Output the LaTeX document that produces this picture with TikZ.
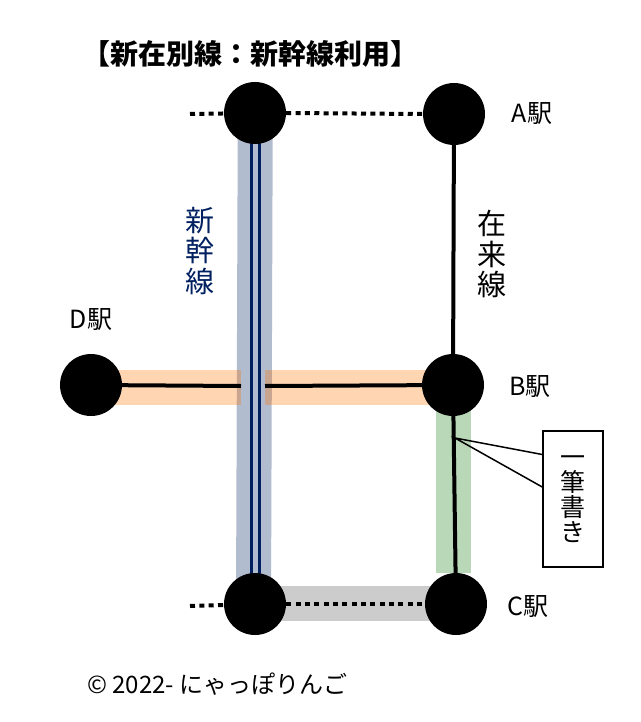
\documentclass[tikz,border=0pt]{standalone}
\usepackage{fontspec}
\setmainfont{Noto Sans CJK JP}
\usetikzlibrary{backgrounds,positioning}
\definecolor{shinblue}{HTML}{002060}
\tikzset{
  station/.style={circle,fill=black,inner sep=0pt,minimum size=62pt},
  label/.style={inner sep=0pt,font=\fontsize{25}{25}\selectfont},
  stack/.style={inner sep=0pt,align=center,font=\fontsize{29}{30.5}\selectfont},
  band/.style={line width=35pt,opacity=0.3},
  dots/.style={line width=4pt,dash pattern=on 5pt off 4.35pt},
  rail/.style={line width=4pt}
}

\begin{document}
\begin{tikzpicture}[x=1pt,y=-1pt]
  \useasboundingbox (0,0) rectangle (640,722);
  \node[station] (n_top) at (255,113) {};
  \node[station] (n_bot) at (255,604) {};
  \node[station] (n_a)   at (454,114) {};
  \node[station] (n_b)   at (453,385) {};
  \node[station] (n_c)   at (456,604) {};
  \node[station] (n_d)   at (91,385)  {};
  \coordinate (w_top) at (190,114);
  \coordinate (w_bot) at (190,606);
  \coordinate (s_l) at (241,386);
  \coordinate (s_r) at (265,386);
  \coordinate (p_tip) at (455,438);

  \begin{scope}[on background layer]
    \draw[band,color=shinblue] (255.3,113) -- (253.5,604);
    \draw[band,color=orange!90!red] (100,387.5) -- (241,387.5);
    \draw[band,color=orange!90!red] (265,387.5) -- (440,387.5);
    \draw[band,color=green!45!black,opacity=0.28] (453.5,400) -- (453.5,573);
    \fill[black!20] (275,586) rectangle (440,621);
    \draw[line width=3pt,shinblue] (251.8,130) -- (251.8,590);
    \draw[line width=3pt,shinblue] (259.6,130) -- (259.6,590);
    \path[rail]
      (n_d) edge (s_l)
      (s_r) edge (n_b)
      (n_a) edge (n_b)
      (n_b) edge (n_c);
    \path[dots]
      (w_top) edge (n_top)
      (n_top.east) edge (n_a.west)
      (w_bot) edge (n_bot)
      (n_bot.east) edge (n_c.west);
  \end{scope}

  % callout
  \node[draw=black,line width=1.5pt,fill=white,minimum width=60pt,minimum height=136pt,inner sep=0pt,align=center,
        font=\fontsize{25}{25}\selectfont] (note) at (573,499) {一\\筆\\書\\き};
  \draw[line width=1.5pt,line join=miter] (note.west |- 0,454.5) -- (p_tip) -- (note.west |- 0,487);

  \node[inner sep=0pt,font=\bfseries\fontsize{28}{28}\selectfont] (title) at (250,54) {【新在別線：新幹線利用】};
  \node[stack,text=shinblue] (shin) at (200,251) {新\\幹\\線};
  \node[stack] (zai) at (492,254) {在\\来\\線};
  \node[label] (l_a) at (532,114) {A駅};
  \node[label] (l_b) at (530,387) {B駅};
  \node[label] (l_c) at (528,607) {C駅};
  \node[label] (l_d) at (91,320)  {D駅};
  \node[inner sep=0pt,anchor=west,font=\fontsize{24}{24}\selectfont] (copy) at (87,684) {© 2022- にゃっぽりんご};
\end{tikzpicture}
\end{document}
